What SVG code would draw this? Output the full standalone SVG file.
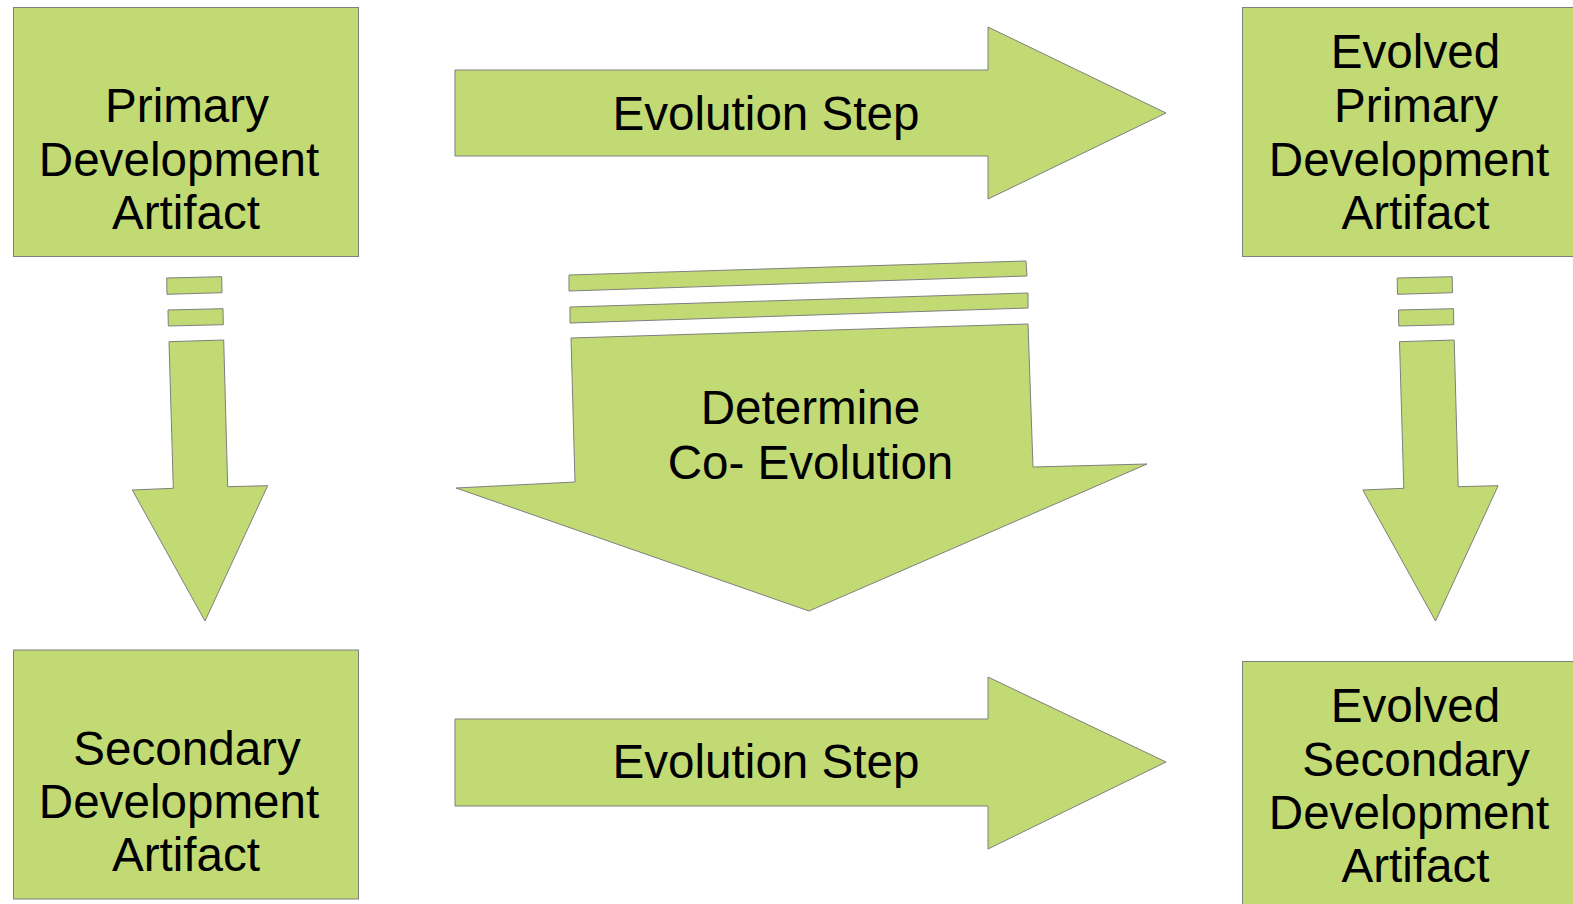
<svg xmlns="http://www.w3.org/2000/svg" width="1573" height="904" viewBox="0 0 1573 904">
  <style>
    .shape { fill: #c2da74; stroke: #7f7f7f; stroke-width: 1; stroke-linejoin: miter; }
    .label { font-family: "Liberation Sans", Arial, sans-serif; font-size: 47.6px; fill: #000; text-anchor: middle; }
  </style>
  <defs>
    <!-- broken-shaft downward arrow used for both artifact columns -->
    <g id="down-arrow">
      <polygon class="shape" points="166.7,278 221.7,276.7 222,292.7 167,294.3"/>
      <polygon class="shape" points="168,310 223,308.7 223.3,324.7 168.3,326"/>
      <polygon class="shape" points="169,341.7 223.7,340 227.7,486.7 267.7,485.7 205,621 132.3,490 173.3,488.3"/>
    </g>
  </defs>

  <rect width="1573" height="904" fill="#ffffff"/>

  <g id="connectors">
    <g id="evolution-step-primary">
      <polygon class="shape" points="455,70 988,70 988,27 1166,113 988,199 988,156 455,156"/>
      <text class="label" x="766" y="129.5">Evolution Step</text>
    </g>
    <g id="evolution-step-secondary">
      <polygon class="shape" points="455,719 988,719 988,677 1166,762 988,849 988,806 455,806"/>
      <text class="label" x="766" y="778">Evolution Step</text>
    </g>
    <g id="primary-to-secondary">
      <use href="#down-arrow"/>
    </g>
    <g id="evolved-primary-to-evolved-secondary">
      <use href="#down-arrow" transform="translate(1230.5,0)"/>
    </g>
    <g id="determine-co-evolution">
      <polygon class="shape" points="569,275 1026,261 1027,276 569,291"/>
      <polygon class="shape" points="570,307 1028,293 1028,308 570,323"/>
      <polygon class="shape" points="571,338 1028,324 1033,467 1147,464 809,611 456,488 575,482"/>
      <text class="label" x="810.5" y="424">Determine</text>
      <text class="label" x="810.5" y="478.5">Co- Evolution</text>
    </g>
  </g>

  <g id="primary-artifact">
    <rect class="shape" x="13.5" y="7.5" width="345" height="249"/>
    <text class="label" x="187" y="121.5">Primary</text>
    <text class="label" x="179" y="175.5">Development</text>
    <text class="label" x="186" y="229">Artifact</text>
  </g>

  <g id="secondary-artifact">
    <rect class="shape" x="13.5" y="650" width="345" height="249"/>
    <text class="label" x="187" y="764.5">Secondary</text>
    <text class="label" x="179" y="818">Development</text>
    <text class="label" x="186" y="871">Artifact</text>
  </g>

  <g id="evolved-primary-artifact">
    <rect class="shape" x="1242.5" y="7.5" width="340" height="249"/>
    <text class="label" x="1415.5" y="67.5">Evolved</text>
    <text class="label" x="1416" y="121.5">Primary</text>
    <text class="label" x="1409" y="175.5">Development</text>
    <text class="label" x="1415.5" y="229">Artifact</text>
  </g>

  <g id="evolved-secondary-artifact">
    <rect class="shape" x="1242.5" y="661.5" width="340" height="260"/>
    <text class="label" x="1415.5" y="721.5">Evolved</text>
    <text class="label" x="1416" y="775.5">Secondary</text>
    <text class="label" x="1409" y="829">Development</text>
    <text class="label" x="1415.5" y="882">Artifact</text>
  </g>
</svg>
